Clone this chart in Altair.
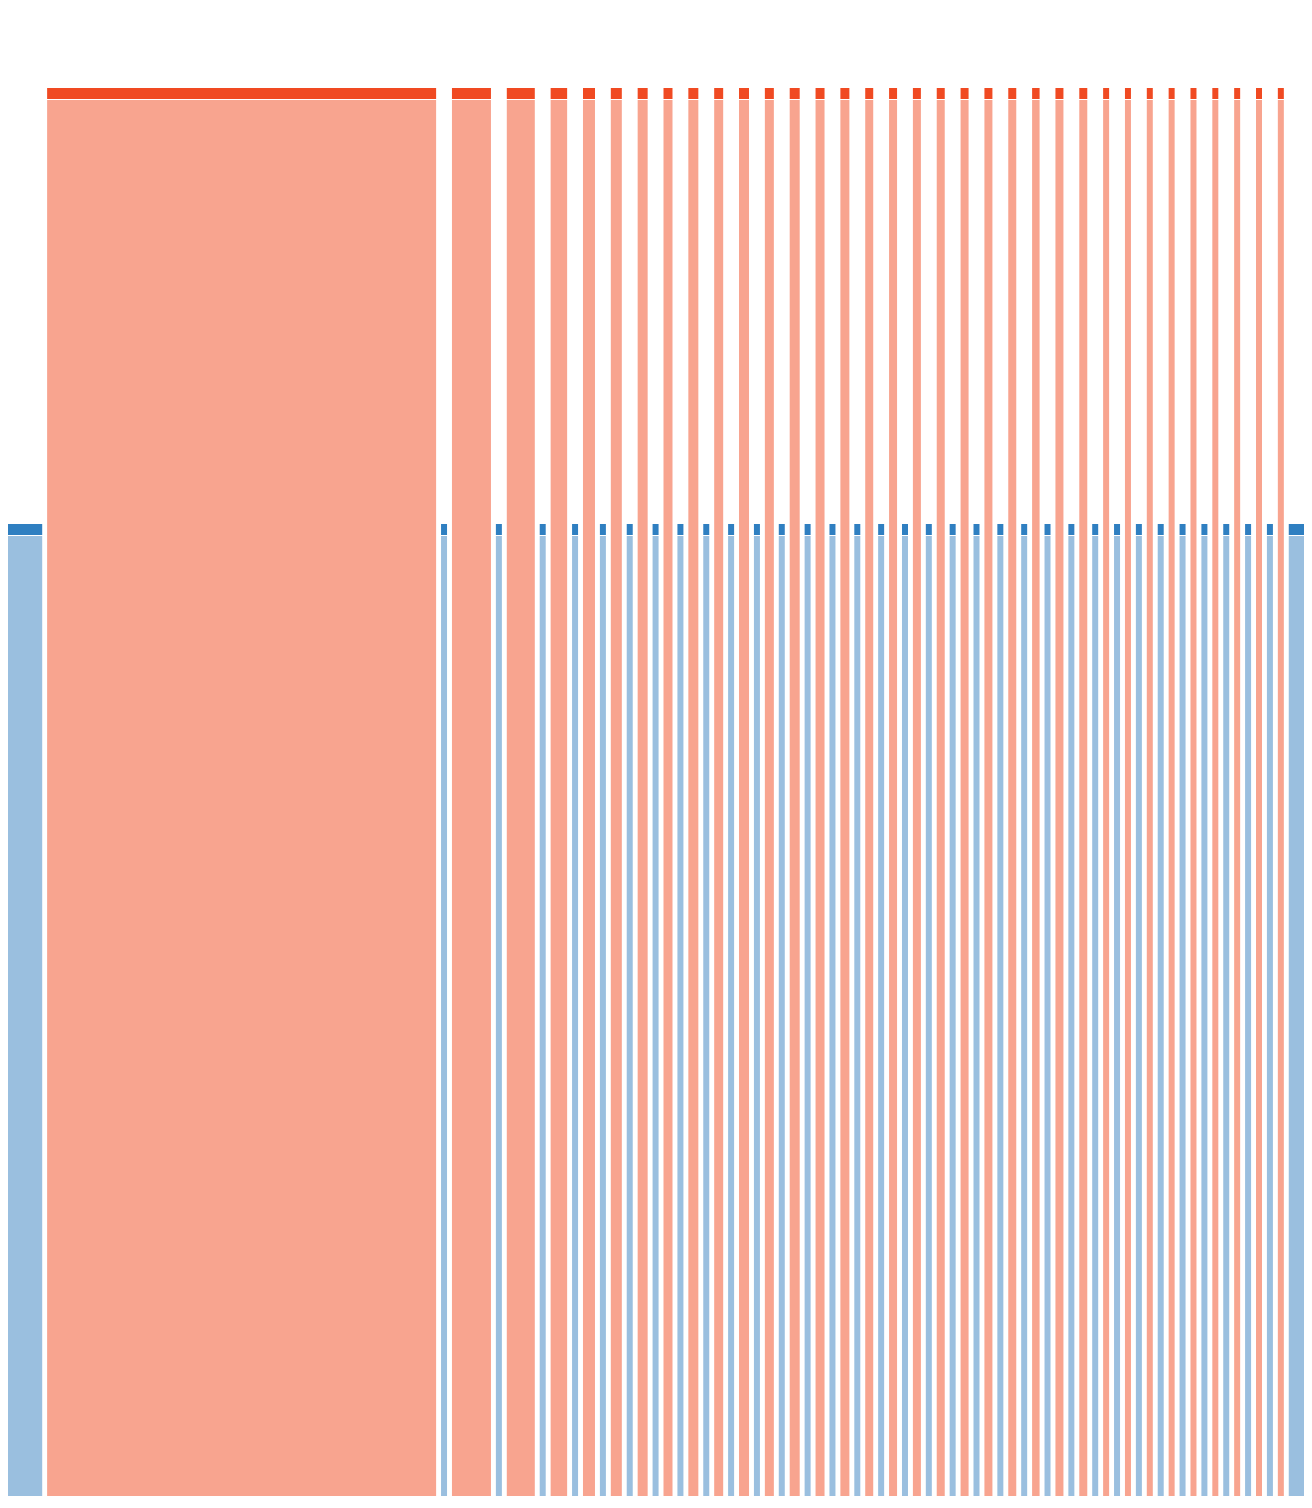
import altair as alt
import pandas as pd

# Items in left-to-right order: group of each column and its width (value units)
groups = ["blue"] + ["red", "blue"] * 34
red_widths = [389, 39, 28, 16.5, 12, 11, 10, 9, 10, 9, 10, 9, 10, 9, 9,
              8, 8, 8, 8, 8, 8, 8, 7.5, 8, 8, 6, 6, 6, 6, 6, 6, 6, 6, 6]
blue_widths = [39.5] + [6] * 33 + [21]
# Level (height) of each group
group_level = {"red": 1420, "blue": 984}

colors_domain = ["red header", "red body", "blue header", "blue body"]
colors_range = ["#f04a22", "#f8a48f", "#2f7fc1", "#9abfdf"]

GAP = 4.92
HEADER = 11
W, H = 1296, 1488

rows = []
ri = bi = 0
pos = 0.0
for g in groups:
    if g == "red":
        w = red_widths[ri]; ri += 1
    else:
        w = blue_widths[bi]; bi += 1
    top = group_level[g]
    rows.append({"x": pos, "x2": pos + w, "y": top, "y2": top - HEADER, "part": f"{g} header"})
    rows.append({"x": pos, "x2": pos + w, "y": top - HEADER - 1, "y2": 0, "part": f"{g} body"})
    pos += w + GAP

df = pd.DataFrame(rows)

chart = alt.Chart(df).mark_rect(clip=True).encode(
    x=alt.X("x:Q", axis=None, scale=alt.Scale(domain=[5.3, 5.3 + W], nice=False, zero=False)),
    x2="x2:Q",
    y=alt.Y("y:Q", axis=None, scale=alt.Scale(domain=[1500 - H, 1500], nice=False, zero=False)),
    y2="y2:Q",
    color=alt.Color("part:N", scale=alt.Scale(domain=colors_domain, range=colors_range), legend=None),
).properties(
    width=W, height=H, padding=0, autosize=alt.AutoSizeParams(type="none")
).configure_view(stroke=None)

chart.save("out.html", embed_options={"renderer": "svg", "actions": False})
